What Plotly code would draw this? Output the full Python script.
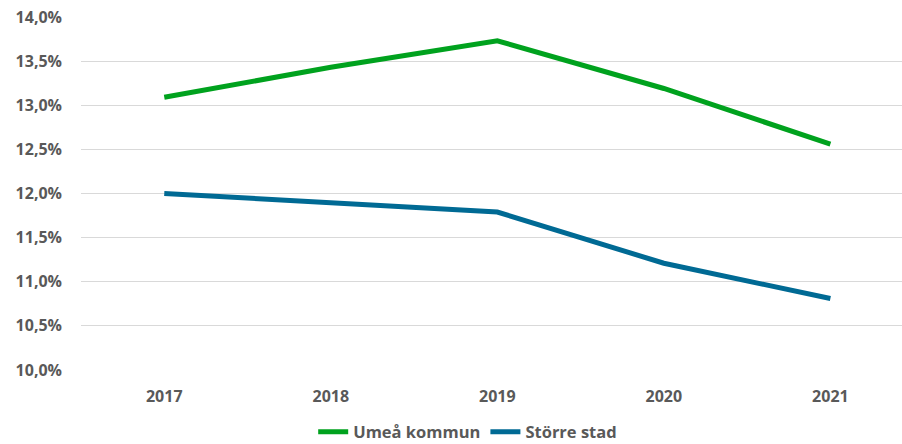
import plotly.graph_objects as go

years = ["2017", "2018", "2019", "2020", "2021"]
umea = [13.09, 13.43, 13.73, 13.19, 12.56]
storre = [12.00, 11.90, 11.79, 11.21, 10.81]
series_names = ["Umeå kommun", "Större stad"]
colors = ["#00A21E", "#006A94"]
yticks = [10.0, 10.5, 11.0, 11.5, 12.0, 12.5, 13.0, 13.5, 14.0]
yticklabels = [f"{v:.1f}".replace(".", ",") + "%" for v in yticks]

fig = go.Figure()
for name, vals, col in zip(series_names, [umea, storre], colors):
    fig.add_trace(go.Scatter(
        x=years, y=vals, name=name, mode="lines",
        line=dict(color=col, width=5),
    ))

tf = dict(family="Open Sans", size=16, color="#595959", weight="bold")
lf = dict(family="Open Sans", size=16.5, color="#595959", weight="bold")
fig.update_layout(
    width=902, height=444,
    margin=dict(l=81, r=0, t=17, b=74),
    paper_bgcolor="white", plot_bgcolor="white",
    font=dict(family="Open Sans", size=16, color="#595959"),
    showlegend=True,
    legend=dict(orientation="h", x=0.471, xanchor="center",
                yref="container", y=0.027, yanchor="middle",
                font=lf, itemwidth=30, tracegroupgap=0),
    xaxis=dict(type="category", range=[-0.5, 4.43], showgrid=False, showline=False,
               ticks="", tickfont=tf, ticklabelstandoff=15, automargin=False),
    yaxis=dict(range=[10, 14], tickvals=yticks, ticktext=yticklabels,
               showgrid=True, gridcolor="#D9D9D9", gridwidth=1, zeroline=False,
               showline=False, ticks="", ticklabelstandoff=18, automargin=False,
               tickfont=tf),
)
fig.write_html("out.html", config={"displayModeBar": False},
               post_script="document.body.style.margin='0';")
